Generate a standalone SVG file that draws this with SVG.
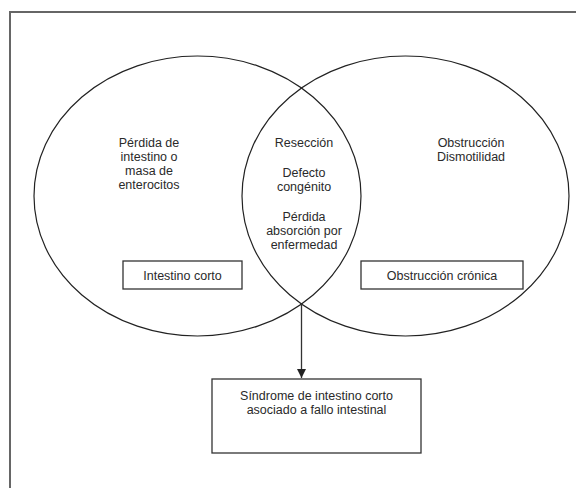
<svg xmlns="http://www.w3.org/2000/svg" width="576" height="488" viewBox="0 0 576 488">
<defs>
<style>
text{font-family:"Liberation Sans",Arial,sans-serif;font-size:12.5px;fill:#2a2a2a;text-anchor:middle}
.ell{fill:none;stroke:#222;stroke-width:1.2}
.box{fill:#fff;stroke:#333;stroke-width:1.3}
.frame{fill:none;stroke:#666;stroke-width:2}
.conn{stroke:#333;stroke-width:1.3;fill:none}
</style>
<marker id="ah" markerWidth="10" markerHeight="10" refX="9" refY="5" orient="auto" markerUnits="userSpaceOnUse">
<path d="M0,0.5 L9,5 L0,9.5 Z" fill="#222"/>
</marker>
</defs>
<rect width="576" height="488" fill="#fff"/>
<path class="frame" d="M10,488 L10,12 L576,12"/>
<g id="left-circle">
<ellipse class="ell" cx="197.5" cy="196" rx="163.5" ry="140"/>
<text x="149" y="147">Pérdida de</text>
<text x="149" y="161">intestino o</text>
<text x="149" y="175">masa  de</text>
<text x="149" y="189">enterocitos</text>
</g>
<g id="right-circle">
<ellipse class="ell" cx="405.5" cy="196" rx="163.5" ry="140"/>
<text x="471" y="147">Obstrucción</text>
<text x="471" y="161">Dismotilidad</text>
</g>
<g id="intersection">
<text x="304" y="147">Resección</text>
<text x="304" y="177">Defecto</text>
<text x="304" y="191">congénito</text>
<text x="304" y="221">Pérdida</text>
<text x="304" y="235">absorción por</text>
<text x="304" y="249">enfermedad</text>
</g>
<g id="intestino-corto">
<rect class="box" x="123" y="261" width="119" height="28"/>
<text x="182.5" y="279.5">Intestino corto</text>
</g>
<g id="obstruccion-cronica">
<rect class="box" x="361" y="261" width="162" height="28"/>
<text x="442" y="279.5">Obstrucción crónica</text>
</g>
<g id="sindrome">
<rect class="box" x="212" y="379" width="209" height="74"/>
<text x="316.5" y="400">Síndrome de intestino corto</text>
<text x="316.5" y="414">asociado a fallo intestinal</text>
</g>
<g id="connectors">
<line class="conn" x1="301.5" y1="304" x2="301.5" y2="378" marker-end="url(#ah)"/>
</g>
</svg>
